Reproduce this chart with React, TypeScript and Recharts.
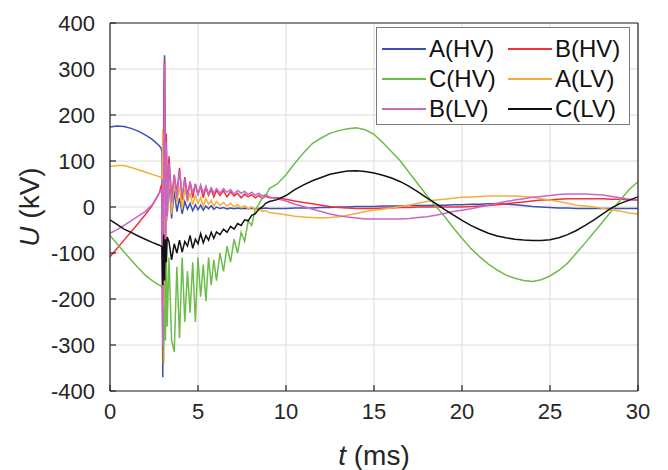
import React from "react";
import { CartesianGrid, Line, LineChart, XAxis, YAxis } from "recharts";

// time base (ms); denser around the fault at ~3 ms
const timeMs = [
  0, 0.4, 0.8, 1.2, 1.6, 2.0, 2.4, 2.8,
  2.9, 2.95, 3.0, 3.05, 3.1, 3.15, 3.2, 3.25,
  3.35, 3.5, 3.65, 3.8, 3.95, 4.1, 4.25, 4.4, 4.55, 4.7, 4.85, 5.0, 5.15, 5.3, 5.45, 5.6, 5.75, 5.9, 6.05,
  6.25, 6.45, 6.65, 6.85, 7.05, 7.25, 7.45, 7.65, 7.85, 8.05, 8.25, 8.45, 8.65, 8.85, 9.05,
  9.5, 10, 10.5, 11, 11.5, 12, 12.5, 13, 13.5, 14, 14.5, 15, 15.5, 16, 16.5, 17, 17.5, 18, 18.5, 19, 19.5,
  20, 20.5, 21, 21.5, 22, 22.5, 23, 23.5, 24, 24.5, 25, 25.5, 26, 26.5, 27, 27.5, 28, 28.5, 29, 29.5, 30,
];

const aHV = [
  174, 176, 175, 171, 165, 157, 147, 133,
  128, 120, -370, 200, 330, -60, 120, -20,
  60, -25, 35, -10, 20, -15, 12, -5, 8, -8, 5, -6, 4, -7, 2, -4, 3, -5, 0,
  -3, -1, -4, -2, -4, -2, -4, -3, -4, -3, -4, -3, -3, -2, -3,
  -3, -3, -2, -2, -2, -1, -1, 0, 0, 1, 1, 1, 2, 2, 2, 3, 3, 3, 4, 4, 5,
  5, 6, 6, 7, 7, 6, 5, 3, 1, 0, -1, -2, -2, -3, -3, -3, -3, -3, -3, -3, -3,
];

const bHV = [
  -108, -90, -72, -54, -36, -17, 3, 30,
  45, 50, -340, 150, 320, -120, 160, 0,
  110, 20, 70, 30, 85, 15, 65, 25, 55, 20, 50, 28, 45, 20, 42, 25, 38, 22, 36,
  25, 35, 22, 33, 24, 30, 20, 28, 22, 27, 20, 25, 19, 23, 20,
  20, 17, 13, 10, 7, 4, 1, -1, -2, -3, -3, -3, -2, -2, -1, -1, 0, 0, 0, 0, 0,
  0, 1, 2, 3, 5, 7, 9, 11, 13, 15, 16, 17, 18, 18, 18, 18, 18, 17, 17, 16, 15,
];

const cHV = [
  -62, -80, -98, -115, -132, -148, -160, -170,
  -172, -175, -176, -340, -150, -290, -100, -260,
  -110, -290, -315, -130, -285, -110, -250, -140, -230, -120, -250, -110, -195, -125, -205, -110, -170, -115, -160,
  -100, -140, -85, -120, -70, -100, -55, -75, -30, -40, -5, 5, 20, 25, 40,
  50, 70, 95, 118, 138, 150, 160, 166, 170, 172, 168, 158, 140, 120, 100, 75, 50, 25, 2, -20, -45,
  -68, -90, -108, -124, -137, -148, -155, -160, -162, -158, -150, -138, -122, -100, -78, -55, -32, -8, 15, 38, 55,
];

const aLV = [
  88, 90, 90, 86, 81, 76, 71, 66,
  64, 62, 170, -220, 60, -80, 110, -30,
  80, -15, 55, 10, 45, -5, 40, 10, 30, 5, 25, 8, 20, 2, 18, 6, 14, 2, 12,
  4, 10, 2, 8, 0, 5, -2, 3, -4, 0, -6, -4, -9, -8, -12,
  -14, -17, -20, -22, -23, -24, -23, -21, -18, -14, -10, -7, -5, -2, 1, 4, 8, 12, 15, 17, 19,
  21, 22, 23, 24, 24, 24, 24, 23, 21, 18, 15, 12, 8, 4, 2, 0, -3, -6, -9, -13, -15,
];

const bLV = [
  -57, -49, -40, -30, -20, -10, 5, 30,
  36, 40, -300, 80, 310, -100, 140, -20,
  95, 10, 70, 20, 80, 25, 60, 15, 55, 30, 50, 25, 48, 30, 45, 28, 42, 30, 40,
  30, 40, 32, 38, 28, 36, 30, 34, 27, 32, 26, 30, 24, 27, 22,
  18, 13, 6, 1, -5, -10, -15, -19, -22, -24, -26, -26, -26, -26, -26, -25, -23, -21, -18, -14, -10,
  -7, -4, 0, 4, 8, 12, 15, 18, 21, 23, 25, 27, 28, 28, 28, 27, 26, 23, 20, 17, 14,
];

const cLV = [
  -28, -38, -48, -55, -63, -70, -77, -83,
  -85, -86, -170, -60, -160, -70, -120, -65,
  -75, -115, -80, -100, -72, -98, -75, -85, -62, -90, -70, -80, -58, -78, -62, -72, -55, -68, -54,
  -60, -48, -55, -42, -48, -36, -40, -28, -30, -18, -15, -5, 0, 8, 12,
  16, 25, 38, 48, 57, 64, 71, 75, 78, 79, 77, 74, 69, 63, 55, 45, 33, 20, 8, -5, -17,
  -29, -40, -49, -57, -63, -67, -70, -72, -73, -73, -71, -67, -60, -51, -40, -28, -15, -2, 8, 15, 22,
];

const xTicks = [0, 5, 10, 15, 20, 25, 30];
const yTicks = [-400, -300, -200, -100, 0, 100, 200, 300, 400];

const series = [
  { key: "aHV", name: "A(HV)", values: aHV, color: "#3d4fb5" },
  { key: "bHV", name: "B(HV)", values: bHV, color: "#f2303a" },
  { key: "cHV", name: "C(HV)", values: cHV, color: "#6dbd4a" },
  { key: "aLV", name: "A(LV)", values: aLV, color: "#f3ae3a" },
  { key: "bLV", name: "B(LV)", values: bLV, color: "#c965c6" },
  { key: "cLV", name: "C(LV)", values: cLV, color: "#111111" },
];

const rows = timeMs.map((t, i) => {
  const row: Record<string, number> = { t };
  series.forEach((s) => (row[s.key] = s.values[i]));
  return row;
});

const FONT = "'Liberation Sans', Arial, Helvetica, sans-serif";
const INK = "#262626";

function XLabel() {
  return (
    <text x={374} y={465} textAnchor="middle" fontFamily={FONT} fontSize={28} fill={INK}>
      <tspan fontStyle="italic">t</tspan> (ms)
    </text>
  );
}

function YLabel() {
  return (
    <text
      x={39}
      y={207}
      textAnchor="middle"
      transform="rotate(-90, 39, 207)"
      fontFamily={FONT}
      fontSize={28}
      fill={INK}
    >
      <tspan fontStyle="italic">U</tspan> (kV)
    </text>
  );
}

function LegendBox() {
  return (
    <div
      style={{
        position: "absolute",
        left: 376,
        top: 27,
        width: 252,
        height: 96,
        background: "#fff",
        border: "1px solid #7a7a7a",
        fontFamily: FONT,
        fontSize: 24,
        color: "#111",
      }}
    >
      {series.map((s, i) => {
        const col = i % 2;
        const row = Math.floor(i / 2);
        return (
          <div
            key={s.key}
            style={{
              position: "absolute",
              left: col === 0 ? 5 : 131,
              top: 6 + row * 30,
              height: 30,
              display: "flex",
              alignItems: "center",
              whiteSpace: "nowrap",
            }}
          >
            <span style={{ display: "inline-block", width: 44, height: 2, background: s.color, marginRight: 3 }} />
            <span>{s.name}</span>
          </div>
        );
      })}
    </div>
  );
}

export default function App() {
  return (
    <div style={{ position: "absolute", left: 0, top: 0, width: 668, height: 470, background: "#fff" }}>
      <LineChart width={668} height={470} data={rows} margin={{ top: 22, right: 29, bottom: 0, left: 0 }}>
        <CartesianGrid stroke="#dcdcdc" strokeWidth={1} />
        <XAxis
          dataKey="t"
          type="number"
          domain={[0, 30]}
          ticks={xTicks}
          interval={0}
          height={79}
          tickSize={-6}
          tickMargin={18}
          axisLine={{ stroke: INK, strokeWidth: 1.2 }}
          tickLine={{ stroke: INK, strokeWidth: 1.2 }}
          tick={{ fill: INK, fontSize: 22, fontFamily: FONT }}
          label={{ content: () => <XLabel /> }}
        />
        <XAxis
          xAxisId="top"
          orientation="top"
          dataKey="t"
          type="number"
          domain={[0, 30]}
          ticks={xTicks}
          interval={0}
          height={1}
          tickSize={-6}
          tick={false}
          axisLine={{ stroke: INK, strokeWidth: 1.2 }}
          tickLine={{ stroke: INK, strokeWidth: 1.2 }}
        />
        <YAxis
          type="number"
          domain={[-400, 400]}
          ticks={yTicks}
          interval={0}
          width={110}
          tickSize={-6}
          tickMargin={21}
          axisLine={{ stroke: INK, strokeWidth: 1.2 }}
          tickLine={{ stroke: INK, strokeWidth: 1.2 }}
          tick={{ fill: INK, fontSize: 22, fontFamily: FONT }}
          label={{ content: () => <YLabel /> }}
        />
        <YAxis
          yAxisId="right"
          orientation="right"
          type="number"
          domain={[-400, 400]}
          ticks={yTicks}
          interval={0}
          width={1}
          tickSize={-6}
          tick={false}
          axisLine={{ stroke: INK, strokeWidth: 1.2 }}
          tickLine={{ stroke: INK, strokeWidth: 1.2 }}
        />
        {series.map((s) => (
          <Line
            key={s.key}
            dataKey={s.key}
            name={s.name}
            type="linear"
            stroke={s.color}
            strokeWidth={1.5}
            dot={false}
            activeDot={false}
            isAnimationActive={false}
          />
        ))}
      </LineChart>
      <LegendBox />
    </div>
  );
}
